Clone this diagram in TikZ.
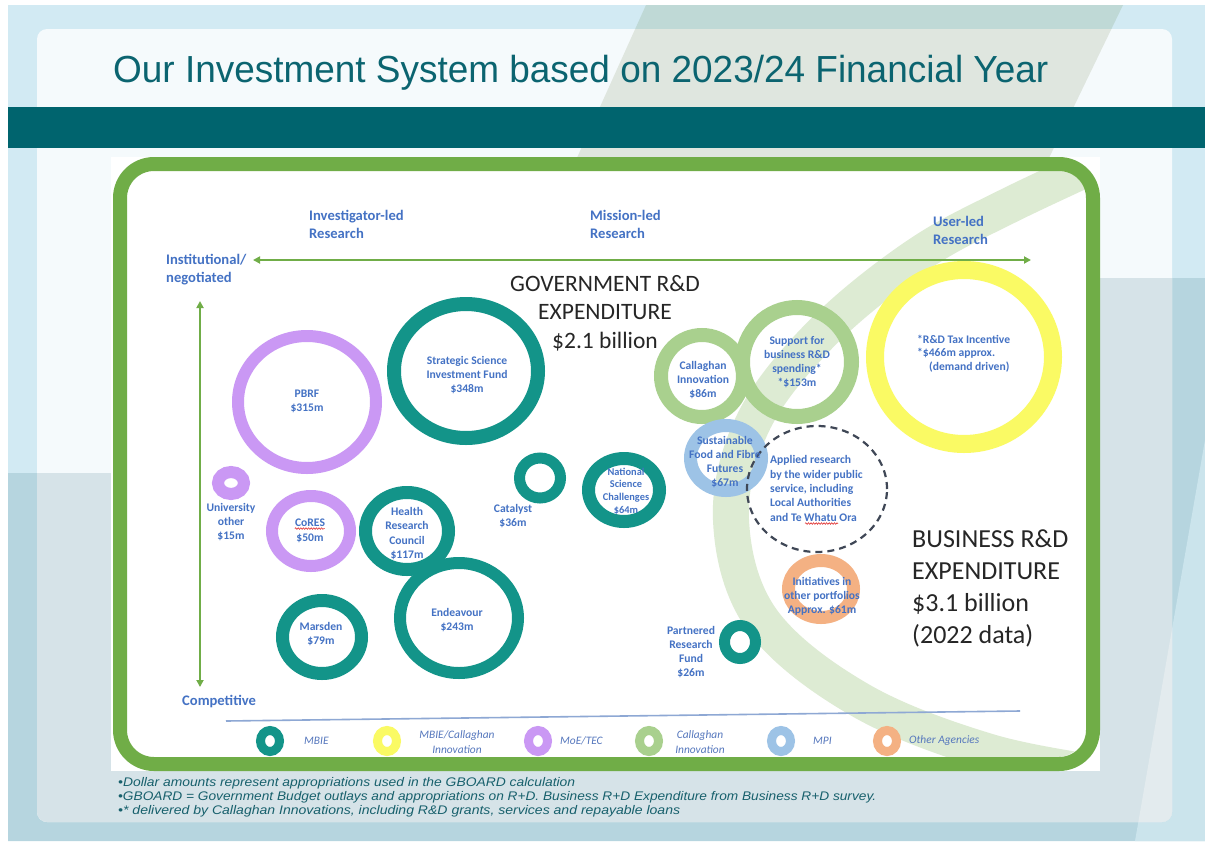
\documentclass[tikz,border=0pt]{standalone}
\usepackage{fontspec}
\setmainfont{Carlito}
\newfontfamily\arialfont{Liberation Sans}
\usetikzlibrary{arrows.meta,decorations.pathmorphing}
\definecolor{bgTop}{HTML}{D2EAF3}
\definecolor{bgLow}{HTML}{B6D5DF}
\definecolor{bgLight}{HTML}{CBE4EC}
\definecolor{panelTop}{HTML}{F5FAFC}
\definecolor{panelLow}{HTML}{D6E3E8}
\definecolor{panelLight}{HTML}{E3EBEE}
\definecolor{vOuter}{HTML}{BFD9D6}
\definecolor{vPanel}{HTML}{DFE6DF}
\definecolor{bandTeal}{HTML}{00646E}
\definecolor{titleTeal}{HTML}{0B6470}
\definecolor{frameGreen}{HTML}{70AD47}
\definecolor{arcGreen}{HTML}{DDEBD3}
\definecolor{cTeal}{HTML}{139489}
\definecolor{cPurple}{HTML}{CA98F4}
\definecolor{cGreen}{HTML}{A9D08E}
\definecolor{cYellow}{HTML}{FAFA64}
\definecolor{cBlue}{HTML}{9DC3E6}
\definecolor{cOrange}{HTML}{F4B183}
\definecolor{dashGrey}{HTML}{3F4756}
\definecolor{lblBlue}{HTML}{4472C4}
\definecolor{legBlue}{HTML}{5577BD}
\definecolor{noteTeal}{HTML}{17606C}
\definecolor{legLine}{HTML}{8EA8D4}
\definecolor{bigText}{HTML}{262626}
\definecolor{waveRed}{HTML}{E03030}
\tikzset{
  lbl/.style={text=lblBlue, font=\bfseries\fontsize{11.6}{14}\selectfont, align=center, inner sep=0pt},
  axislbl/.style={text=lblBlue, font=\bfseries\fontsize{14.6}{18}\selectfont, align=left, inner sep=0pt, anchor=west},
  bigtxt/.style={text=bigText, inner sep=0pt},
  legtxt/.style={text=legBlue, font=\itshape\fontsize{11.4}{15}\selectfont, align=center, inner sep=0pt},
  notetxt/.style={text=noteTeal, inner sep=0pt, anchor=west},
  axisarrow/.style={draw=frameGreen, line width=2pt, {Triangle[length=7pt,width=7pt]}-{Triangle[length=7pt,width=7pt]}},
  ringline/.style={line width=#1},
  legring/.style={line width=9pt},
  wavy/.style={draw=waveRed, line width=0.6pt, decorate, decoration={snake, amplitude=0.8pt, segment length=2.6pt}},
}
\begin{document}
\begin{tikzpicture}[x=1pt,y=-1pt]
\useasboundingbox (0,0) rectangle (1205,841);
% background
\fill[white] (0,0) rectangle (1205,841);
\fill[bgTop] (8,5) rectangle (1205,841);
\fill[bgLow] (8,473) -- (600,473) -- (600,278) -- (1205,278) -- (1205,841) -- (8,841) -- cycle;
\fill[bgLight] (1205,440) -- (1205,841) -- (1135,841) -- cycle;
\fill[vOuter] (646,5) -- (1123,5) -- (1048,160) -- (576,160) -- cycle;
\fill[panelTop, rounded corners=10pt] (37,29) rectangle (1172,822);
\begin{scope}
  \clip[rounded corners=10pt] (37,29) rectangle (1172,822);
  \fill[panelLow] (0,473) -- (600,473) -- (600,278) -- (1205,278) -- (1205,841) -- (0,841) -- cycle;
  \fill[panelLight] (1205,440) -- (1205,841) -- (1135,841) -- cycle;
  \fill[vPanel] (646,5) -- (1123,5) -- (1048,160) -- (576,160) -- cycle;
\end{scope}
% title
\node[anchor=base west, inner sep=0pt, text=titleTeal] (title) at (113,82)
  {\resizebox{935pt}{\height}{\arialfont\fontsize{37.7}{40}\selectfont Our Investment System based on 2023/24 Financial Year}};
\fill[bandTeal] (8,107) rectangle (1205,148);
% frame
\fill[white] (111,157) rectangle (1100,771);
\begin{scope}
  \clip[rounded corners=30pt] (126,170) rectangle (1087,757);
  \draw[arcGreen, line width=36pt] plot[smooth, tension=0.6] coordinates {(1150,140) (1010,205) (915,257) (820,335) (753,423) (731,520) (762,620) (860,700) (990,752) (1110,775)};
\end{scope}
\draw[frameGreen, line width=14pt, rounded corners=34pt] (120,164) rectangle (1093,764);
% axes
\coordinate (hl) at (253,260);
\coordinate (hr) at (1031,260);
\coordinate (vt) at (200,301);
\coordinate (vb) at (200,687);
\draw[axisarrow] (hl) -- (hr);
\draw[axisarrow] (vt) -- (vb);
\node[axislbl] (inv) at (309,224) {Investigator-led\\Research};
\node[axislbl] (mis) at (590,224) {Mission-led\\Research};
\node[axislbl] (usr) at (933,230) {User-led\\Research};
\node[axislbl] (inst) at (166,270) {Institutional/\\negotiated};
\node[axislbl] (comp) at (182,702) {Competitive};
% big texts
\node[bigtxt, align=center, font=\fontsize{23.5}{28.5}\selectfont] (gov) at (605,313) {GOVERNMENT R\&D\\EXPENDITURE\\\$2.1 billion};
\node[bigtxt, align=left, anchor=west, font=\fontsize{26}{32}\selectfont] (bus) at (912,588) {BUSINESS R\&D\\EXPENDITURE\\\$3.1 billion\\(2022 data)};
% rings
\draw[cPurple, ringline=12pt] (307,402) ellipse [x radius=69pt, y radius=66pt];
\draw[cTeal, ringline=14pt] (466,371) ellipse [x radius=72pt, y radius=67pt];
\draw[cGreen, ringline=14pt] (702,376) ellipse [x radius=41pt, y radius=41pt];
\draw[cGreen, ringline=15pt] (797,362) ellipse [x radius=54.5pt, y radius=54.5pt];
\draw[cYellow, ringline=18pt] (964,357) ellipse [x radius=89pt, y radius=87pt];
\draw[cPurple, ringline=12pt] (231,483) ellipse [x radius=13pt, y radius=11pt];
\draw[cPurple, ringline=12pt] (311,531) ellipse [x radius=39pt, y radius=35pt];
\draw[cTeal, ringline=13pt] (407,531) ellipse [x radius=41.5pt, y radius=38.5pt];
\draw[cTeal, ringline=11pt] (540,478) ellipse [x radius=20.5pt, y radius=20pt];
\draw[cTeal, ringline=13pt] (624,490) ellipse [x radius=35.5pt, y radius=31.5pt];
\draw[cBlue, ringline=13pt] (726,458) ellipse [x radius=35.5pt, y radius=32.5pt];
\draw[dashGrey, line width=2.2pt, dash pattern=on 7pt off 5pt] (817,489) ellipse [x radius=70pt, y radius=63pt];
\draw[cTeal, ringline=12pt] (459,618) ellipse [x radius=59pt, y radius=55pt];
\draw[cTeal, ringline=13pt] (322,637) ellipse [x radius=39.5pt, y radius=36.5pt];
\draw[cOrange, ringline=13pt] (821,589) ellipse [x radius=32.5pt, y radius=28.5pt];
\draw[cTeal, ringline=11pt] (740,642) ellipse [x radius=15.5pt, y radius=16.5pt];
% ring labels
\node[lbl] (pbrf) at (307,401) {PBRF\\\$315m};
\node[lbl] (ssif) at (467,375) {Strategic Science\\Investment Fund\\\$348m};
\node[lbl] (cal) at (703,380.5) {Callaghan\\Innovation\\\$86m};
\node[lbl] (sup) at (797,362) {Support for\\business R\&D\\spending*\\*\$153m};
\node[lbl, align=left, anchor=west, font=\bfseries\fontsize{11.6}{13.5}\selectfont] (tax) at (917,353.5) {*R\&D Tax Incentive\\*\$466m approx.\\\hspace*{12pt}(demand driven)};
\node[lbl] (uni) at (231,522.5) {University\\other\\\$15m};
\node[lbl] (cores) at (310,523) {CoRES};
\node[lbl] (cores2) at (310,538) {\$50m};
\node[lbl, font=\bfseries\fontsize{11.6}{14.3}\selectfont] (hrc) at (407,533.5) {Health\\Research\\Council\\\$117m};
\node[lbl] (cat) at (513,516) {Catalyst\\\$36m};
\node[lbl, font=\bfseries\fontsize{10.4}{12.7}\selectfont] (nsc) at (626,491) {National\\Science\\Challenges\\\$64m};
\node[lbl] (sfff) at (725,462) {Sustainable\\Food and Fibre\\Futures\\\$67m};
\node[lbl, align=left, anchor=west, font=\bfseries\fontsize{11.6}{14.3}\selectfont] (app) at (770,488.5) {Applied research\\by the wider public\\service, including\\Local Authorities\\and Te Whatu Ora};
\node[lbl] (oth) at (822,596) {Initiatives in\\other portfolios\\Approx. \$61m};
\node[lbl] (end) at (457,620) {Endeavour\\\$243m};
\node[lbl] (mar) at (321,634.5) {Marsden\\\$79m};
\node[lbl] (prf) at (691,652) {Partnered\\Research\\Fund\\\$26m};
\draw[wavy] (cores.south west) ++(0,1.5) -- ++(30,0);
\coordinate (wh1) at (805,523.5);
\coordinate (wh2) at (838,523.5);
\draw[wavy] (wh1) -- (wh2);
% legend
\coordinate (ll) at (226,721);
\coordinate (lr) at (1020,711);
\draw[legLine, line width=1.6pt] (ll) -- (lr);
\draw[cTeal, legring] (270,741) ellipse [x radius=9.5pt, y radius=10.5pt];
\draw[cYellow, legring] (387,741) ellipse [x radius=9.5pt, y radius=10.5pt];
\draw[cPurple, legring] (538,741) ellipse [x radius=9.5pt, y radius=10.5pt];
\draw[cGreen, legring] (649,741) ellipse [x radius=9.5pt, y radius=10.5pt];
\draw[cBlue, legring] (781,741) ellipse [x radius=9.5pt, y radius=10.5pt];
\draw[cOrange, legring] (887,741) ellipse [x radius=9.5pt, y radius=10.5pt];
\node[legtxt, anchor=west] (l1) at (304,741) {MBIE};
\node[legtxt] (l2) at (457,742.5) {MBIE/Callaghan\\Innovation};
\node[legtxt, anchor=west] (l3) at (560,741) {MoE/TEC};
\node[legtxt] (l4) at (700,742.5) {Callaghan\\Innovation};
\node[legtxt, anchor=west] (l5) at (813,741) {MPI};
\node[legtxt, anchor=west] (l6) at (909,741) {Other Agencies};
% footnotes
\node[notetxt] (n1) at (118,783) {\resizebox{457pt}{\height}{\arialfont\itshape\fontsize{12.5}{14}\selectfont •Dollar amounts represent appropriations used in the GBOARD calculation}};
\node[notetxt] (n2) at (118,797) {\resizebox{758pt}{\height}{\arialfont\itshape\fontsize{12.5}{14}\selectfont •GBOARD = Government Budget outlays and appropriations on R+D. Business R+D Expenditure from Business R+D survey.}};
\node[notetxt] (n3) at (118,811) {\resizebox{562pt}{\height}{\arialfont\itshape\fontsize{12.5}{14}\selectfont •* delivered by Callaghan Innovations, including R\&D grants, services and repayable loans}};
\end{tikzpicture}
\end{document}
